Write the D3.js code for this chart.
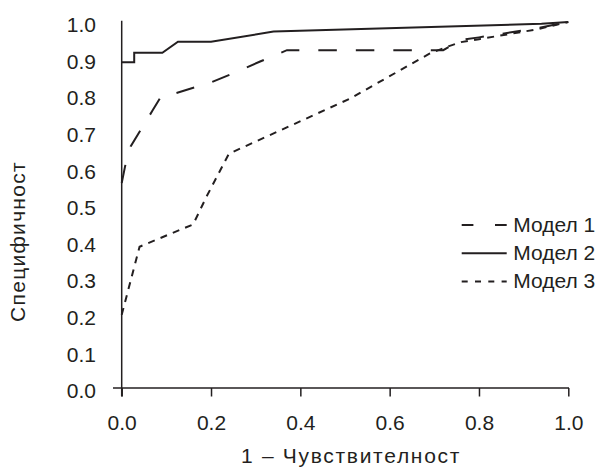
<!DOCTYPE html>
<html lang="bg"><head><meta charset="utf-8">
<script src="https://cdn.jsdelivr.net/npm/d3@7"></script>
<style>
  body { margin: 0; background: #fff; }
  text { font-family: "Liberation Sans", Arial, sans-serif; fill: #231f20; }
</style></head>
<body>
<svg id="chart" width="599" height="469"></svg>
<script>
// ROC curves: x = 1 – sensitivity, y = specificity
const model1X = [0, 0.01, 0.02, 0.04, 0.07, 0.09, 0.12, 0.2, 0.25, 0.31, 0.37, 0.72, 0.76, 0.80, 0.93, 1];
const model1Y = [0.56, 0.62, 0.66, 0.70, 0.76, 0.80, 0.805, 0.835, 0.86, 0.892, 0.923, 0.923, 0.951, 0.958, 0.983, 1];

const model2X = [0, 0.028, 0.028, 0.091, 0.126, 0.2, 0.34, 0.94, 1];
const model2Y = [0.89, 0.89, 0.916, 0.916, 0.946, 0.946, 0.974, 0.995, 1];

const model3X = [0, 0.04, 0.16, 0.19, 0.24, 0.51, 0.69, 0.73, 0.76, 0.80, 0.93, 1];
const model3Y = [0.2, 0.386, 0.447, 0.523, 0.64, 0.79, 0.914, 0.933, 0.945, 0.953, 0.98, 1];

const xTicks = [0, 0.2, 0.4, 0.6, 0.8, 1.0];
const yTicks = [0, 0.1, 0.2, 0.3, 0.4, 0.5, 0.6, 0.7, 0.8, 0.9, 1.0];

const seriesNames = ["Модел 1", "Модел 2", "Модел 3"];
const xTitle = "1 – Чувствителност";
const yTitle = "Специфичност";

const ink = "#231f20";
const svg = d3.select("#chart");

const x = d3.scaleLinear().domain([0, 1]).range([121.7, 568.3]);
const y = d3.scaleLinear().domain([0, 1]).range([388, 22]);

// x axis: baseline, outward ticks and labels
const xAxis = svg.append("g").attr("transform", `translate(0,${y(0)})`)
  .call(d3.axisBottom(x).tickValues(xTicks).tickFormat(d3.format(".1f"))
    .tickSize(8.5).tickPadding(0));
xAxis.select(".domain").remove();
xAxis.selectAll(".tick line").attr("stroke", ink).attr("stroke-width", 1.5);
xAxis.selectAll(".tick text").attr("font-size", 21).attr("dy", null)
  .attr("y", 42).attr("fill", ink);
xAxis.append("line").attr("x1", 113).attr("x2", x(1) + 0.7)
  .attr("y1", 0).attr("y2", 0).attr("stroke", ink).attr("stroke-width", 1.5);

// y axis: plain line with labels only
const yAxis = svg.append("g").attr("transform", `translate(${x(0)},0)`)
  .call(d3.axisLeft(y).tickValues(yTicks).tickFormat(d3.format(".1f"))
    .tickSize(0).tickPadding(25.7));
yAxis.select(".domain").remove();
yAxis.selectAll(".tick text").attr("font-size", 21).attr("dy", null)
  .attr("y", 9.7).attr("fill", ink);
yAxis.append("line").attr("x1", 0).attr("x2", 0)
  .attr("y1", y(0) + 8.5).attr("y2", y(1) - 1.3).attr("stroke", ink).attr("stroke-width", 1.5);

// axis titles
svg.append("text").attr("x", 351).attr("y", 463).attr("text-anchor", "middle")
  .attr("font-size", 21).attr("letter-spacing", 1.7).text(xTitle);
svg.append("text").attr("transform", "translate(25,241.5) rotate(-90)")
  .attr("text-anchor", "middle").attr("font-size", 21).attr("letter-spacing", 1.3).text(yTitle);

// curves
const line = d3.line().x(d => x(d[0])).y(d => y(d[1]));
const series = [
  { xs: model1X, ys: model1Y, dash: "18.5,19", legendDash: "11.7,21.6" },
  { xs: model2X, ys: model2Y, dash: null, legendDash: null },
  { xs: model3X, ys: model3Y, dash: "7,6.3", legendDash: "6,7.3" }
];
series.forEach(s => {
  svg.append("path")
    .datum(d3.zip(s.xs, s.ys))
    .attr("d", line)
    .attr("fill", "none")
    .attr("stroke", ink)
    .attr("stroke-width", 2)
    .attr("stroke-dasharray", s.dash);
});

// legend
const legend = svg.append("g").attr("transform", "translate(461.7,225)");
series.forEach((s, i) => {
  const row = legend.append("g").attr("transform", `translate(0,${i * 28.3})`);
  row.append("line").attr("x1", 0).attr("x2", 45).attr("y1", 0).attr("y2", 0)
    .attr("stroke", ink).attr("stroke-width", 2).attr("stroke-dasharray", s.legendDash);
  row.append("text").attr("x", 51.5).attr("y", 6.8).attr("font-size", 21).text(seriesNames[i]);
});
</script>
</body></html>
